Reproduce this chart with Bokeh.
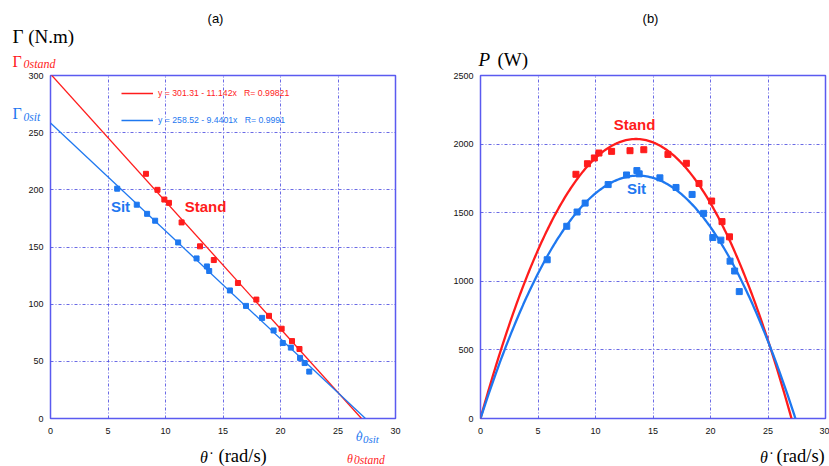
import numpy as np
from bokeh.plotting import figure
from bokeh.layouts import row, column
from bokeh.models import Range1d, FixedTicker, Label, Legend, LegendItem
from bokeh.embed import file_html
from bokeh.resources import INLINE

# ---------------- data ----------------
x_ticks = [0, 5, 10, 15, 20, 25, 30]
torque_ticks = [0, 50, 100, 150, 200, 250, 300]
power_ticks = [0, 500, 1000, 1500, 2000, 2500]

sit_speed = [5.8, 7.5, 8.4, 9.1, 11.1, 12.7, 13.6, 13.8, 15.6, 17.0, 18.4, 19.4, 20.2, 20.9, 21.7, 22.1, 22.5]
sit_torque = [201, 187, 179, 173, 154, 140, 133, 129, 112, 98.5, 88, 77, 66, 62, 53, 48.5, 41]
sit_power = [1157, 1401, 1505, 1570, 1705, 1775, 1807, 1783, 1754, 1684, 1633, 1495, 1319, 1300, 1147, 1075, 925]

stand_speed = [8.3, 9.3, 9.9, 10.3, 11.4, 13.0, 14.2, 16.3, 17.9, 19.0, 20.1, 21.0, 21.65]
stand_torque = [214, 200, 191.5, 188.6, 171.5, 150.6, 138.6, 118.5, 104, 89.8, 78.5, 67.7, 60.8]
stand_power = [1780, 1857, 1899, 1935, 1947, 1952, 1959, 1925, 1860, 1713, 1585, 1435, 1324]

# linear fits printed in the chart legend: torque = a - b * speed
stand_a, stand_b, stand_r = 301.31, 11.142, 0.99821
sit_a, sit_b, sit_r = 258.52, 9.4401, 0.9991

RED = "#ff1c1c"
BLUE = "#1e78f0"
FRAME = "#5a5af0"
GRID = "#5050e0"
SANS = "Liberation Sans"
SERIF = "Liberation Serif"
GREEK = "DejaVu Serif"
THETA = "\u03b8"
THETA_DOT = "\u03b8\u0307"
DOT = "\u2022"


def style(p, yticks):
    p.xaxis.ticker = FixedTicker(ticks=x_ticks)
    p.yaxis.ticker = FixedTicker(ticks=yticks)
    for ax in (p.xaxis, p.yaxis):
        ax.axis_line_color = None
        ax.major_tick_line_color = None
        ax.minor_tick_line_color = None
        ax.major_tick_out = 0
        ax.major_tick_in = 0
        ax.minor_tick_out = 0
        ax.major_label_text_font = SANS
        ax.major_label_text_font_size = "9px"
        ax.major_label_text_color = "#111111"
    p.xaxis.major_label_standoff = 9
    p.yaxis.major_label_standoff = 7
    p.outline_line_color = FRAME
    p.outline_line_width = 1.5
    for g in (p.xgrid, p.ygrid):
        g.grid_line_color = GRID
        g.grid_line_dash = "3 2 1 2"
        g.grid_line_width = 1
        g.grid_line_alpha = 0.85
    p.background_fill_color = "white"
    p.border_fill_color = "white"


def add_label(p, conv, px, py, text, color="black", size="12px", font=SERIF,
              style_="normal", align="left", place="center"):
    x, y = conv(px, py)
    lab = Label(x=x, y=y, text=text, text_color=color, text_font_size=size,
                text_font=font, text_font_style=style_, text_align=align,
                text_baseline="middle")
    p.add_layout(lab, place)


def text_strip(height, top):
    f = figure(width=829, height=height, x_range=Range1d(0, 829), y_range=Range1d(top + height, top),
               min_border=0, x_axis_location=None, y_axis_location=None, title=None,
               output_backend="svg", toolbar_location=None)
    f.grid.visible = False
    f.outline_line_color = None
    f.background_fill_color = "white"
    f.border_fill_color = "white"
    return f


def page(px, py):
    return (px, py)


# ---------------- header strip (titles, y-axis names) ----------------
hdr = text_strip(71, 0)
add_label(hdr, page, 215, 17.5, "(a)", size="13px", font=SANS, align="center")
add_label(hdr, page, 12, 36, "\u0393 (N.m)", size="19px")
add_label(hdr, page, 12, 61, "\u0393", color=RED, size="16px")
add_label(hdr, page, 23, 63.5, "0stand", color=RED, size="12px", style_="italic")
add_label(hdr, page, 650, 17.5, "(b)", size="13px", font=SANS, align="center")
add_label(hdr, page, 478, 59, "P", size="19px", style_="italic")
add_label(hdr, page, 497, 59, "(W)", size="19px")

# ---------------- left: torque ----------------
p1 = figure(width=450, height=374, x_range=Range1d(0, 30), y_range=Range1d(0, 300),
            min_border_left=50, min_border_right=55, min_border_top=4, min_border_bottom=26,
            output_backend="svg", toolbar_location=None)
style(p1, torque_ticks)


def conv1(px, py):
    return ((px - 50) / 11.5, (419 - py) / (344 / 300))


stand_end = stand_a / stand_b
sit_end = sit_a / sit_b
r_line = p1.line([0, stand_end], [stand_a, stand_a - stand_b * stand_end], color=RED, line_width=1.3)
b_line = p1.line([0, sit_end], [sit_a, sit_a - sit_b * sit_end], color=BLUE, line_width=1.3)
p1.scatter(stand_speed, stand_torque, marker="square", size=5, color=RED)
p1.scatter(sit_speed, sit_torque, marker="square", size=5, color=BLUE)

leg_r = Legend(items=[LegendItem(label=f"y = {stand_a} - {stand_b}x   R= {stand_r}", renderers=[r_line])],
               location=(71, 320), glyph_width=32, glyph_height=10, label_height=10,
               label_text_font=SANS, label_text_font_size="8.7px", label_text_color=RED,
               label_standoff=5, padding=0, margin=0, border_line_color=None,
               background_fill_alpha=0)
leg_b = Legend(items=[LegendItem(label=f"y = {sit_a} - {sit_b}x   R= {sit_r}", renderers=[b_line])],
               location=(71, 293), glyph_width=32, glyph_height=10, label_height=10,
               label_text_font=SANS, label_text_font_size="8.7px", label_text_color=BLUE,
               label_standoff=5, padding=0, margin=0, border_line_color=None,
               background_fill_alpha=0)
p1.add_layout(leg_r, "center")
p1.add_layout(leg_b, "center")

add_label(p1, conv1, 120, 206, "Sit", color=BLUE, size="15px", font=SANS, style_="bold", align="center")
add_label(p1, conv1, 205, 206, "Stand", color=RED, size="15px", font=SANS, style_="bold", align="center")
# texts beside the frame live in the side panels so they are not clipped
add_label(p1, conv1, 12, 113.5, "\u0393", color=BLUE, size="16px", place="left")
add_label(p1, conv1, 23, 117, "0sit", color=BLUE, size="11.5px", style_="italic", place="right")
add_label(p1, conv1, 355.5, 438, THETA, color=BLUE, size="11px", font=GREEK, style_="italic", place="right")
add_label(p1, conv1, 359.3, 432, DOT, color=BLUE, size="5px", font=SANS, align="center", place="right")
add_label(p1, conv1, 362.5, 440, "0sit", color=BLUE, size="11px", style_="italic", place="right")

# ---------------- right: power ----------------
p2 = figure(width=379, height=374, x_range=Range1d(0, 30), y_range=Range1d(0, 2500),
            min_border_left=30, min_border_right=4, min_border_top=2, min_border_bottom=27,
            output_backend="svg", toolbar_location=None)
style(p2, power_ticks)


def conv2(px, py):
    return ((px - 480) / 11.5, (418 - py) / (345 / 2500))


xs_stand = np.linspace(0, stand_end, 200)
xs_sit = np.linspace(0, sit_end, 200)
p2.line(xs_stand, (stand_a - stand_b * xs_stand) * xs_stand, color=RED, line_width=2.3)
p2.line(xs_sit, (sit_a - sit_b * xs_sit) * xs_sit, color=BLUE, line_width=2.3)
p2.scatter(stand_speed, stand_power, marker="square", size=6, color=RED)
p2.scatter(sit_speed, sit_power, marker="square", size=6, color=BLUE)

add_label(p2, conv2, 634, 122, "Stand", color=RED, size="15px", font=SANS, style_="bold", align="center")
add_label(p2, conv2, 636, 187, "Sit", color=BLUE, size="15px", font=SANS, style_="bold", align="center")

# ---------------- footer strip (x-axis names) ----------------
ftr = text_strip(21, 445)
add_label(ftr, page, 199.5, 457, THETA_DOT, size="16px", style_="italic")
add_label(ftr, page, 218, 455.5, "(rad/s)", size="18.5px")
add_label(ftr, page, 346.5, 458, THETA_DOT, color=RED, size="12px", style_="italic")
add_label(ftr, page, 353.5, 459.5, "0stand", color=RED, size="11.5px", style_="italic")
add_label(ftr, page, 759.5, 457, THETA_DOT, size="16px", style_="italic")
add_label(ftr, page, 776, 455.5, "(rad/s)", size="18.5px")

layout = column(hdr, row(p1, p2, spacing=0), ftr, spacing=0)
open("out.html", "w").write(file_html(layout, INLINE))
